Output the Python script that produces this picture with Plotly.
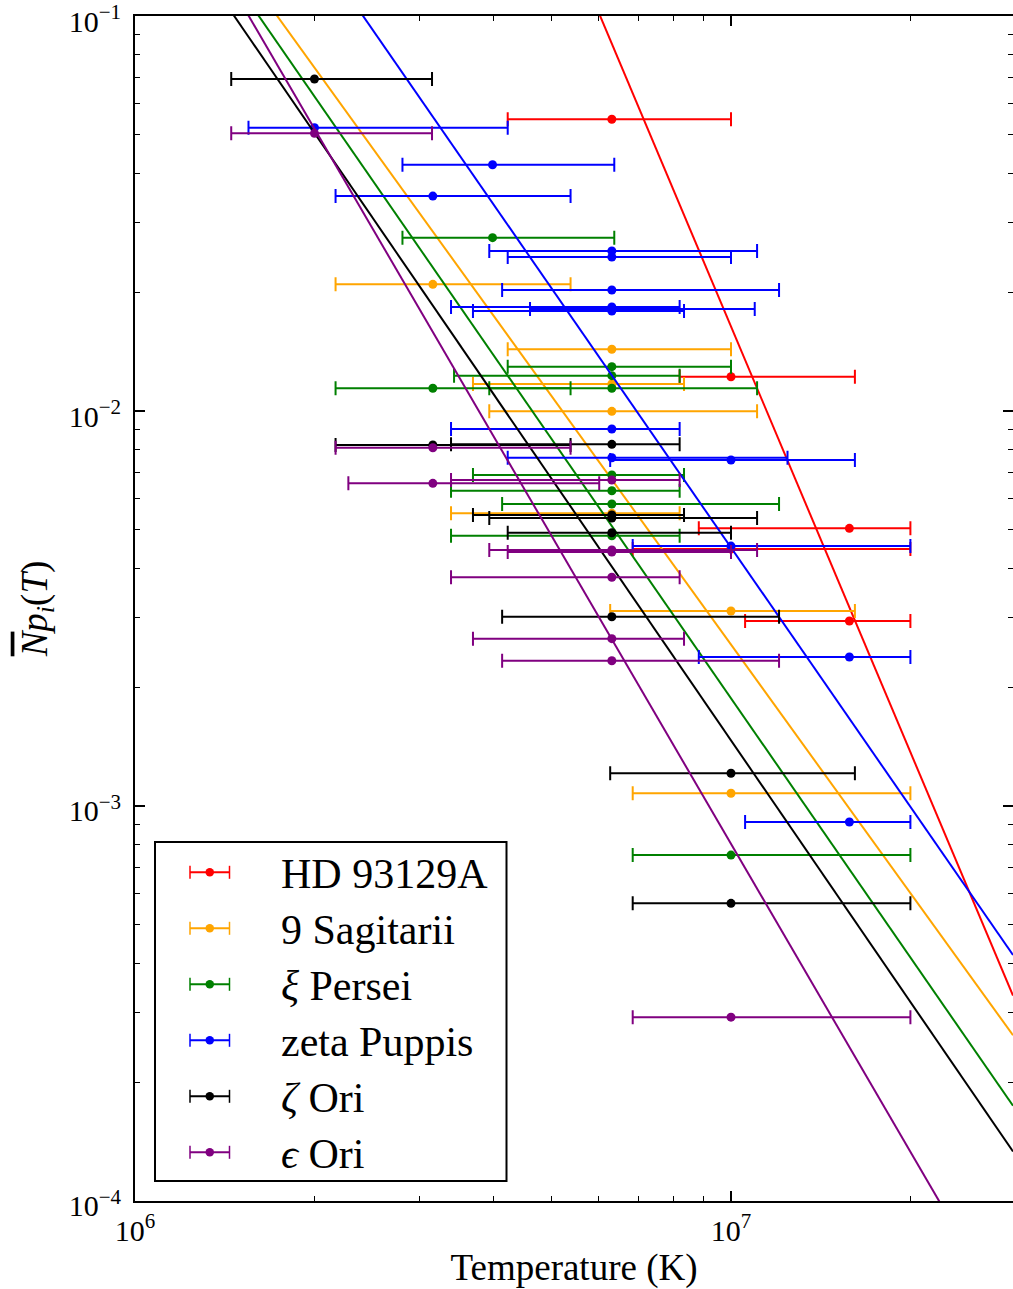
import plotly.graph_objects as go

# ---------------- data ----------------
star_names = ["HD 93129A", "9 Sagitarii", "ξ Persei", "zeta Puppis", "ζ Ori", "ϵ Ori"]
legend_labels = ["HD 93129A", "9 Sagitarii", "<i>ξ</i> Persei", "zeta Puppis",
                 "<i>ζ</i> Ori", "<i>ϵ</i> Ori"]
colors = ["#ff0000", "#ffa500", "#008000", "#0000ff", "#000000", "#800080"]

# HD 93129A
hd_T    = [6.31e6, 1.0e7, 1.58e7, 1.0e7, 1.58e7]
hd_T_lo = [4.22e6, 8.20e6, 8.83e6, 6.84e6, 1.056e7]
hd_T_hi = [1.0e7, 1.614e7, 2.0e7, 2.0e7, 2.0e7]
hd_N    = [0.0548, 0.01221, 0.005047, 0.004473, 0.002940]

# 9 Sagitarii
sgr_T    = [3.16e6, 6.31e6, 6.31e6, 6.31e6, 6.31e6, 1.0e7, 1.0e7]
sgr_T_lo = [2.17e6, 4.22e6, 3.69e6, 3.93e6, 3.39e6, 6.27e6, 6.84e6]
sgr_T_hi = [5.38e6, 1.0e7, 8.34e6, 1.106e7, 8.20e6, 1.614e7, 2.0e7]
sgr_N    = [0.02093, 0.01433, 0.01171, 0.00998, 0.005508, 0.003117, 0.001077]

# xi Persei
per_T    = [3.98e6, 6.31e6, 6.31e6, 3.16e6, 6.31e6, 6.31e6, 6.31e6, 6.31e6, 6.31e6, 1.0e7]
per_T_lo = [2.81e6, 4.22e6, 3.43e6, 2.17e6, 3.93e6, 3.69e6, 3.39e6, 4.13e6, 3.39e6, 6.84e6]
per_T_hi = [6.37e6, 1.0e7, 8.20e6, 5.38e6, 1.106e7, 8.34e6, 8.20e6, 1.204e7, 8.20e6, 2.0e7]
per_N    = [0.02747, 0.01295, 0.01229, 0.01142, 0.01142, 0.006887, 0.006284, 0.005815,
            0.004833, 0.000751]

# zeta Puppis
pup_T    = [2.0e6, 3.98e6, 3.16e6, 6.31e6, 6.31e6, 6.31e6, 6.31e6, 6.31e6, 6.31e6,
            6.31e6, 6.31e6, 1.0e7, 1.0e7, 1.58e7, 1.58e7]
pup_T_lo = [1.55e6, 2.81e6, 2.17e6, 3.93e6, 4.22e6, 4.13e6, 3.39e6, 3.69e6, 4.60e6,
            3.39e6, 4.22e6, 6.27e6, 6.84e6, 8.83e6, 1.056e7]
pup_T_hi = [4.22e6, 6.37e6, 5.38e6, 1.106e7, 1.0e7, 1.204e7, 8.20e6, 8.34e6, 1.096e7,
            8.20e6, 1.244e7, 1.614e7, 2.0e7, 2.0e7, 2.0e7]
pup_N    = [0.05216, 0.04202, 0.03501, 0.02542, 0.02454, 0.02025, 0.01834, 0.01792,
            0.01813, 0.009004, 0.007616, 0.007514, 0.004550, 0.002384, 0.000911]

# zeta Ori
zori_T    = [2.0e6, 3.16e6, 6.31e6, 6.31e6, 6.31e6, 6.31e6, 6.31e6, 1.0e7, 1.0e7]
zori_T_lo = [1.45e6, 2.17e6, 3.39e6, 3.69e6, 3.93e6, 4.22e6, 4.13e6, 6.27e6, 6.84e6]
zori_T_hi = [3.15e6, 5.38e6, 8.20e6, 8.34e6, 1.106e7, 1.0e7, 1.204e7, 1.614e7, 2.0e7]
zori_N    = [0.06927, 0.008201, 0.008235, 0.005453, 0.005358, 0.004918, 0.003014,
             0.001210, 0.000567]

# epsilon Ori
eori_T    = [2.0e6, 3.16e6, 3.16e6, 6.31e6, 6.31e6, 6.31e6, 6.31e6, 6.31e6, 6.31e6, 1.0e7]
eori_T_lo = [1.45e6, 2.17e6, 2.28e6, 3.39e6, 3.93e6, 4.22e6, 3.39e6, 3.69e6, 4.13e6, 6.84e6]
eori_T_hi = [3.15e6, 5.38e6, 6.01e6, 8.20e6, 1.106e7, 1.0e7, 8.20e6, 8.34e6, 1.204e7, 2.0e7]
eori_N    = [0.05047, 0.008074, 0.006561, 0.006688, 0.004447, 0.004395, 0.003793,
             0.002652, 0.002332, 0.000292]

# power-law fits: N = fit_norm * (T / 1e7) ** fit_index
fit_norm  = [0.01637, 0.002562, 0.001874, 0.004511, 0.001466, 0.000802]
fit_index = [-3.58, -2.09, -2.18, -2.18, -2.20, -2.59]

x_ticks = [1e6, 1e7]
x_tick_text = ["10<sup>6</sup>", "10<sup>7</sup>"]
x_minor = [2e6, 3e6, 4e6, 5e6, 6e6, 7e6, 8e6, 9e6, 2e7, 3e7]
y_ticks = [1e-4, 1e-3, 1e-2, 1e-1]
y_tick_text = ["10<sup>−4</sup>", "10<sup>−3</sup>", "10<sup>−2</sup>", "10<sup>−1</sup>"]
y_minor = [m * 10.0 ** e for e in (-4, -3, -2) for m in range(2, 10)]

series = [
    (hd_T, hd_T_lo, hd_T_hi, hd_N),
    (sgr_T, sgr_T_lo, sgr_T_hi, sgr_N),
    (per_T, per_T_lo, per_T_hi, per_N),
    (pup_T, pup_T_lo, pup_T_hi, pup_N),
    (zori_T, zori_T_lo, zori_T_hi, zori_N),
    (eori_T, eori_T_lo, eori_T_hi, eori_N),
]

# tiny padding so the decade ticks at both ends survive floating-point rounding
X_RANGE = [5.9999, 7.4732]
Y_RANGE = [-4.0001, -0.9999]
FONT = "Liberation Serif, Times New Roman, serif"

fig = go.Figure()
t_fit = [10 ** X_RANGE[0], 10 ** X_RANGE[1]]
for i, (T, lo, hi, N) in enumerate(series):
    c = colors[i]
    fig.add_trace(go.Scatter(
        x=T, y=N, mode="markers", name=star_names[i], showlegend=False,
        marker=dict(color=c, size=9, line=dict(width=0)),
        error_x=dict(type="data", symmetric=False,
                     array=[h - t for h, t in zip(hi, T)],
                     arrayminus=[t - l for t, l in zip(T, lo)],
                     color=c, thickness=2, width=7),
    ))
    fig.add_trace(go.Scatter(
        x=t_fit, y=[fit_norm[i] * (t / 1e7) ** fit_index[i] for t in t_fit],
        mode="lines", line=dict(color=c, width=2), showlegend=False, hoverinfo="skip",
        name=star_names[i] + " fit",
    ))

# ---------------- layout ----------------
W, H = 1013, 1289
L, R, TOP, B = 135, 1013, 16, 1201


def px(xp):
    return (xp - L) / (R - L)


def py(yp):
    return (B - yp) / (B - TOP)


axis_common = dict(
    type="log", showgrid=False, zeroline=False, showline=True, linecolor="black",
    linewidth=2, mirror="allticks", ticks="inside", ticklen=10, tickwidth=1.5,
    tickcolor="black", tickmode="array", tickfont=dict(family=FONT, size=30, color="black"),
    ticklabeloverflow="allow", automargin=False,
)

fig.update_layout(
    width=W, height=H, autosize=False,
    margin=dict(l=L, r=W - R, t=TOP, b=H - B, pad=0, autoexpand=False),
    paper_bgcolor="white", plot_bgcolor="white",
    showlegend=False,
    xaxis=dict(axis_common, range=X_RANGE, tickvals=x_ticks, ticktext=x_tick_text,
               minor=dict(tickmode="array", tickvals=x_minor, ticks="inside", ticklen=5,
                          tickwidth=1.2, tickcolor="black", showgrid=False),
               ticklabelstandoff=2,
               title=dict(text="Temperature (K)", font=dict(family=FONT, size=37, color="black"),
                          standoff=8)),
    yaxis=dict(axis_common, range=Y_RANGE, tickvals=y_ticks, ticktext=y_tick_text,
               minor=dict(tickmode="array", tickvals=y_minor, ticks="inside", ticklen=5,
                          tickwidth=1.2, tickcolor="black", showgrid=False),
               ticklabelstandoff=6, ticklabelshift=5,
               title=dict(text='<span style="text-decoration:overline"><i>N</i></span>'
                               '<i>p<sub>i</sub></i>(<i>T</i>)',
                          font=dict(family=FONT, size=37, color="black"), standoff=10)),
)

# ---------------- legend box (matplotlib style with error-bar keys) ----------------
shapes = [dict(type="rect", xref="paper", yref="paper", x0=px(155), x1=px(506.5),
               y0=py(1181), y1=py(842), line=dict(color="black", width=2),
               fillcolor="white", layer="above")]
annotations = []
row0, row_step = 872.3, 56.0
for i, c in enumerate(colors):
    yr = row0 + row_step * i
    shapes.append(dict(type="line", xref="paper", yref="paper", x0=px(190), x1=px(229.5),
                       y0=py(yr), y1=py(yr), line=dict(color=c, width=2), layer="above"))
    for xc in (190, 229.5):
        shapes.append(dict(type="line", xref="paper", yref="paper", x0=px(xc), x1=px(xc),
                           y0=py(yr - 6.5), y1=py(yr + 6.5), line=dict(color=c, width=1.5),
                           layer="above"))
    shapes.append(dict(type="circle", xref="paper", yref="paper", x0=px(205.5), x1=px(214),
                       y0=py(yr + 4.25), y1=py(yr - 4.25), fillcolor=c,
                       line=dict(color=c, width=0), layer="above"))
    annotations.append(dict(xref="paper", yref="paper", x=px(279), y=py(yr + 2),
                            xanchor="left", yanchor="middle", showarrow=False,
                            text=legend_labels[i],
                            font=dict(family=FONT, size=42, color="black")))

fig.update_layout(shapes=shapes, annotations=annotations)

fig.write_html("out.html")
